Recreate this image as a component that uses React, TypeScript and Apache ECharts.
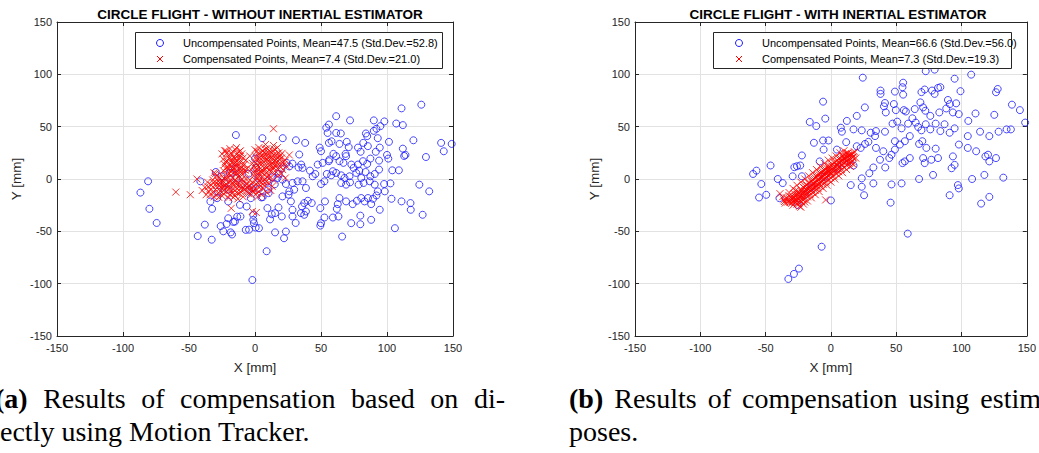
import React, { useEffect, useRef } from "react";
import * as echarts from "echarts";

const AXIS_MIN = -150;
const AXIS_MAX = 150;
const AXIS_STEP = 50;

const TITLE_A = "CIRCLE FLIGHT - WITHOUT INERTIAL ESTIMATOR";
const TITLE_B = "CIRCLE FLIGHT - WITH INERTIAL ESTIMATOR";
const LEGEND_A = [
  "Uncompensated Points, Mean=47.5 (Std.Dev.=52.8)",
  "Compensated Points, Mean=7.4 (Std.Dev.=21.0)",
];
const LEGEND_B = [
  "Uncompensated Points, Mean=66.6 (Std.Dev.=56.0)",
  "Compensated Points, Mean=7.3 (Std.Dev.=19.3)",
];
const X_NAME = "X [mm]";
const Y_NAME = "Y [mm]";

const CAPTION_A1 = ["(a)", "Results", "of", "compensation", "based", "on", "di-"];
const CAPTION_A2 = "ectly using Motion Tracker.";
const CAPTION_B1 = ["(b)", "Results", "of", "compensation", "using", "estim"];
const CAPTION_B2 = "poses.";

// Left panel: uncompensated points (blue circles)
const UNCOMP_A: number[][] = [
  [111, 67.5], [126, 71], [61.5, 60], [72, 56], [56, 52], [54, 49], [90, 56], [98, 55], [107, 53], [112, 51.5],
  [95, 50.5], [92, 48], [90, 46], [55, 44], [61.5, 44], [65, 43.5], [84, 43.5], [85, 41], [93, 39], [101.5, 35.5],
  [120, 37], [141, 34.5], [149, 33.5], [143, 26.5], [112, 29], [114, 23], [113, 22], [129.5, 21],
  [5.6, 39], [21, 39], [31, 37], [38, 34.5], [49, 30], [50, 26.5], [56, 34.5], [58, 36], [64, 33.5], [69.5, 35.5],
  [71, 30.5], [78, 30], [80, 26], [82, 34.5], [85.5, 31.4], [91.5, 26], [94.5, 30], [100, 23], [101, 19.5],
  [94, 17.6], [87.4, 19.5], [85, 14.4], [94, 9], [104, 8.3], [109, 8.3],
  [33.5, 23.4], [35, 13.8], [33, 11], [36, 10.6], [28.4, 14.7], [26, 12], [24, 15.4], [41.6, 8], [43.7, 2.6],
  [45.7, 4.8], [47.5, 13.8], [51.3, 15.4], [55.9, 17], [56.4, 18.6], [59.4, 24], [61.5, 21.8], [64, 17], [67, 15.4],
  [69, 21.8], [68.6, 24], [73, 13.8], [74.7, 10.6], [76.7, 5.8], [79, 8], [78, 13.8], [81.8, 17], [83.8, 6.7],
  [80.5, 1], [87.4, 2.6], [90.7, 4.8], [86.9, -2.2],
  [54.4, 4.8], [57.7, 3.5], [59, 7.4], [61.5, 5.8], [65.3, 3.5], [67.8, 1], [71.6, 2.6], [52.6, -2.2], [50, -4.8],
  [65.3, -3.8], [69, -5.4], [72, -3.2], [78.5, -5.4], [82.3, -3.8], [90.7, -5.4], [93, -11.8], [97.8, -4.8],
  [102.6, -4.2], [98.3, -11.8], [92, -15.7], [89.4, -18.9], [88, -24], [85.6, -18.2], [83, -21.4], [80.5, -18.2],
  [77.2, -20.8], [74, -24], [69, -21.4], [64, -18.2], [62.7, -24], [62, -28.5], [63.2, -35.8], [59, -36.8],
  [52.6, -36.8], [49.5, -27.8], [53, -21.4], [43, -23], [40, -20.8], [37.3, -23], [35.6, -26.2], [38.6, -31],
  [37.3, -34.2], [34.8, -32.6], [28.4, -35.8], [27.2, -21.4], [25.4, -15], [20.8, -16.6], [26, -11.8], [29.7, -10.2],
  [38.6, -8.6], [36, -2.2], [32.3, -2.2], [28.4, -3.8], [23.4, -4.8], [20.8, -0.6], [17, 1], [13.2, 1.6], [9.4, -2.2],
  [3, -9.3], [4.8, -17.6], [9.4, -27.8], [15.2, -32.6], [17.8, -27.2], [20.3, -35.8], [12.7, -33.6], [28.4, -29.4],
  [50, -42.2], [49.5, -44.5], [66, -55], [72.9, -42.2], [79.8, -43.2], [79.8, -35], [88, -39], [94.5, -29.4],
  [103.4, -18.9], [111, -21.4], [117.8, -23], [118, -29.4], [127, -34.2], [124.5, -5.4], [132, -11.8], [106, -47],
  [15.2, -51], [23.4, -50.2], [22, -56.6], [-7, -48.6], [0.5, -46.4], [3, -47], [-0.8, -42.2], [-11, -35.8],
  [-74.5, -42], [-21.5, -43], [-16.4, -41], [-24, -50], [-18.4, -51], [-4.5, -48.4], [8.8, -69], [-2, -96.5],
  [30.8, -42], [-38, -43.6], [-26, -45], [-43.4, -54.5], [-32.8, -58], [-17.4, -53],
  [-14.5, 42], [-81, -2.2], [-86.8, -13], [-80, -28.5], [-41.4, -2.2], [-29.7, 6.7], [-33.8, -21.5], [-32.5, -28.5],
  [-28.7, -18.3], [-20.3, -21.5], [-11.4, -24.7], [-6.3, -26.3], [-1.3, -34.3], [-20.3, -37.5], [-15.2, -40.7],
  [-13.5, -36], [-2.5, -8.7], [5.8, -17.3], [0, 19.5], [0.8, 10.6], [2.5, 1], [-19, 5.8], [-14, 1], [-22.8, -3.8],
  [-25.4, 2.6], [-1.3, -39], [-4.4, -10.3], [-3.2, -18.3], [10.3, -13.5], [11.4, -38.6],
  [-20, -10], [-10, -5], [-28, -12], [-5, 5], [10, -10], [15, -5], [18, 5], [20, 10], [-15, 10],
];

// Left panel: compensated points (red crosses)
const COMP_A: number[][] = [
  [-22, 27], [-18, 25], [-15, 28], [-12, 26], [-10, 24], [-20, 22], [-16, 21], [-13, 22], [-9, 20], [-7, 18],
  [-24, 19], [-21, 17], [-18, 18], [-14, 17], [-11, 16], [-8, 14], [-23, 14], [-19, 13], [-16, 14], [-13, 12],
  [-10, 11], [-6, 10], [-22, 10], [-17, 9], [-14, 8], [-11, 7], [-8, 6], [-20, 6], [-15, 5], [-12, 3],
  [-25, 24], [-19, 29], [-14, 30], [-17, 11], [-21, 12], [-12, 19], [-15, 16], [-9, 9], [-18, 7], [-24, 8],
  [-38, -8], [-35, -12], [-33, -6], [-30, -10], [-28, -14], [-26, -8], [-24, -4], [-22, -12], [-20, -7], [-18, -2],
  [-16, -10], [-14, -5], [-12, -14], [-10, -8], [-8, -3], [-6, -11], [-4, -6], [-36, -3], [-32, -1], [-29, -4],
  [-27, 1], [-25, -16], [-23, 0], [-21, 3], [-19, -15], [-17, 1], [-15, -1], [-13, 2], [-11, -2], [-9, -17],
  [-7, 0], [-5, -14], [-3, -9], [-34, -15], [-31, -17], [-28, -2], [-26, 4], [-22, -9], [-20, -3], [-18, -11],
  [-16, -6], [-14, -13], [-12, -7], [-10, 0], [-8, -10], [-40, -11], [-37, -15], [-24, -11], [-20, -18], [-15, -16],
  [-13, -19], [-30, 2], [-27, -6], [-11, -12], [-6, -5], [-4, -1], [-2, -12], [-25, -1], [-17, -4], [-23, -6],
  [0, 28], [3, 30], [6, 27], [9, 29], [12, 26], [15, 28], [18, 25], [2, 24], [5, 22], [8, 24],
  [11, 22], [14, 23], [17, 21], [20, 20], [1, 19], [4, 17], [7, 19], [10, 17], [13, 18], [16, 16],
  [19, 15], [22, 14], [-2, 15], [2, 13], [5, 14], [8, 12], [11, 13], [14, 11], [17, 10], [21, 9],
  [-3, 9], [0, 8], [3, 6], [6, 8], [9, 6], [12, 7], [15, 5], [18, 4], [-1, 3], [2, 1],
  [5, 2], [8, 0], [11, 1], [14, -1], [-2, -3], [1, -5], [4, -3], [7, -6], [10, -4], [13, -7],
  [0, -10], [3, -12], [6, -9], [9, -13], [-3, -15], [2, -17], [5, -15], [7, 25], [10, 20], [13, 15],
  [4, 10], [16, 19], [19, 22], [23, 18], [24, 12], [20, 5], [9, 2], [6, -2], [-1, -7], [12, -11],
  [1, 21], [11, 27], [14, 32], [8, 33], [17, 30], [-4, 22], [-1, 12], [3, -8], [15, 13],
  [-21.5, 24.5], [-17.5, 23.5], [-13.5, 24.5], [-19.5, 19.5], [-15.5, 19.5], [-11.5, 21.5], [-22.5, 16.5],
  [-17.5, 15.5], [-13.5, 14.5], [-9.5, 13.5], [-20.5, 9.5], [-15.5, 10.5], [-11.5, 9.5], [-7.5, 8.5], [-18.5, 3.5],
  [-13.5, 5.5], [-9.5, 4.5], [-33.5, -9.5], [-29.5, -6.5], [-26.5, -11.5], [-24.5, -7.5], [-21.5, -5.5],
  [-19.5, -9.5], [-17.5, -13.5], [-15.5, -3.5], [-13.5, -9.5], [-11.5, -4.5], [-9.5, -11.5], [-7.5, -6.5],
  [-5.5, -8.5], [-31.5, -13.5], [-27.5, -17.5], [-23.5, -14.5], [-16.5, -17.5], [-21.5, 0.5], [-26.5, -3.5],
  [-31.5, -3.5], [-35.5, -7.5],
  [1.5, 26.5], [4.5, 25.5], [7.5, 28.5], [10.5, 24.5], [13.5, 26.5], [16.5, 23.5], [3.5, 20.5], [6.5, 21.5],
  [9.5, 18.5], [12.5, 20.5], [15.5, 17.5], [18.5, 18.5], [0.5, 15.5], [3.5, 14.5], [6.5, 16.5], [9.5, 11.5],
  [12.5, 12.5], [16.5, 12.5], [19.5, 11.5], [1.5, 9.5], [4.5, 7.5], [7.5, 9.5], [10.5, 8.5], [13.5, 9.5],
  [-0.5, 5.5], [2.5, 3.5], [5.5, 5.5], [10.5, 3.5], [0.5, -1.5], [3.5, -1.5], [8.5, -2.5], [-1.5, -11.5],
  [4.5, -6.5], [1.5, -13.5], [21.5, 16.5], [20.5, 24.5],
  [-60, -12.5], [-49, -15], [-44, 0], [-30, 5], [14, 48], [-18, -28], [-2, -31], [1, -32], [-23, 27], [-11, 27],
  [26, 23], [23, 1], [-31, 6],
];

// Right panel: uncompensated points (blue circles)
const UNCOMP_B: number[][] = [
  [24.4, 96.8], [72.6, 103], [79.4, 104.5], [107.4, 99.7], [94.7, 95.8], [55.3, 92], [54.8, 87.7], [38, 84.5],
  [38, 81.3], [49, 83.5], [55.3, 80.6], [69.3, 83], [71.8, 85.5], [77.4, 84.5], [82, 87], [83.8, 87.7], [79.4, 81.3],
  [99.2, 83.9], [127.7, 86], [126.4, 82.9], [-6, 73.9], [26, 68.4], [41.4, 72.6], [48.2, 71.6], [40.6, 69.4],
  [42, 63.6], [49.7, 65.8], [55.8, 65.8], [57.4, 64.5], [68.5, 73.2], [70.6, 68.4], [64.2, 66.8], [72.3, 65.2],
  [76.1, 60.3], [83, 63.6], [89.6, 75.5], [91, 71.6], [95.9, 72.3], [88.3, 67.4], [93.4, 63.6], [97.9, 62],
  [110.7, 62.6], [125.1, 61.3], [138.6, 71], [144.7, 65.8], [148.7, 53.9], [-16.2, 54.5], [-11.2, 50.6],
  [-4.3, 57.7], [7.6, 49], [12.2, 55.5], [19.8, 60.3], [8.4, 45.2], [17.3, 47.4], [23.6, 46.5], [30.5, 44.2],
  [34.5, 45.8], [33.8, 41], [41.4, 45.2], [47.2, 52.9], [50.8, 54.8], [54.1, 48.4], [59.1, 52.9], [62.4, 58],
  [64.9, 53.9], [66.8, 49.7], [69.3, 46.5], [72.6, 52.3], [76.1, 47.4], [80.2, 52.9], [83.8, 45.8], [87, 52.3],
  [90.9, 44.2], [94.7, 48.4], [105.2, 55.5], [104.8, 41], [114.2, 45.2], [121.3, 41], [128.4, 45.2], [134.5, 47.4],
  [137.8, 47.4], [98, 32.9], [104.8, 29.7], [111.2, 26.5], [118.3, 21.6], [121.3, 16.8], [120.3, 23.2], [126.4, 20],
  [-6, 36.8], [-1.8, 36.8], [-5.6, 28.1], [4.6, 28.1], [11.7, 35.2], [19.8, 31.3], [22.8, 29.7], [26.1, 33.5],
  [28.7, 35.5], [34.5, 29.7], [40.1, 26.5], [44.7, 20], [46.4, 23.2], [49, 28.1], [49, 36.1], [52.8, 32.9],
  [56.6, 36.1], [60.4, 41], [67.5, 33.5], [70, 36.1], [73.1, 29.7], [80.2, 29], [82, 20], [70.6, 20], [71.8, 15.2],
  [76.9, 18.4], [78.2, 3.9], [56.6, 16.8], [60.4, 20], [54.8, 15.2], [37.6, 18.4], [41.6, 11], [32.5, 11],
  [29.4, 5.5], [32.5, -4.2], [23.6, 0.6], [23.6, -7.4], [25.4, -15.5], [15.2, -5.8], [17.3, 12.9], [93.4, 21.6],
  [92.4, 10.3], [94.7, 13.5], [97.2, -5.8], [97.9, -9], [90.9, -15.5], [108.1, 0], [117.5, 3.9], [121.3, -17.1],
  [115, -23.5], [132, 1.3], [67.5, 0], [54.1, -4.2], [46.4, -5.2], [45.7, -22.6],
  [-59.6, 4.8], [-57, 8], [-46.2, 12.9], [-53.3, -4.8], [-55, -17.7], [-49.5, -15.1], [-40.7, 0], [-36.9, -3.9],
  [-39.4, -18.3], [-29.3, 2.6], [-28, 11.3], [-26, 12.2], [-23.5, 12.9], [-22.2, 2.6], [-22.2, 22.5], [-25.5, -24.8],
  [-13, 34.6], [-8.6, 16.8], [0, -20.5], [-32.6, -95.5], [-28.3, -90.7], [-24.5, -85.6], [-7.1, -64.7], [58.8, -52.2],
  [-15, -8], [-5, 2], [5, 10], [10, 15], [-20, -15],
];

// Right panel: compensated points (red crosses)
const COMP_B: number[][] = [
  [-36, -20], [-34, -18], [-33, -22], [-32, -16], [-31, -20], [-30, -23], [-29, -17], [-28, -14], [-28, -21],
  [-27, -19], [-26, -24], [-26, -15], [-25, -12], [-25, -18], [-24, -21], [-23, -16], [-23, -10], [-22, -19],
  [-22, -13], [-21, -8], [-21, -16], [-20, -22], [-20, -11], [-19, -14], [-19, -6], [-18, -17], [-18, -9],
  [-17, -12], [-17, -4], [-16, -15], [-16, -7], [-15, -10], [-15, -2], [-14, -13], [-14, -5], [-13, -8], [-13, 0],
  [-12, -11], [-12, -3], [-11, -6], [-11, 2], [-10, -9], [-10, -1], [-9, -4], [-9, 4], [-8, -7], [-8, 1], [-7, -2],
  [-7, 6], [-6, -5], [-6, 3], [-5, 0], [-5, 8], [-4, -3], [-4, 5], [-3, 2], [-3, 10], [-2, -1], [-2, 7], [-1, 4],
  [-1, 12], [0, 1], [0, 9], [1, 6], [1, 14], [2, 3], [2, 11], [3, 8], [3, 16], [4, 5], [4, 13], [5, 10], [5, 18],
  [6, 7], [6, 15], [7, 12], [7, 20], [8, 9], [8, 17], [9, 14], [9, 22], [10, 11], [10, 19], [11, 16], [11, 24],
  [12, 13], [12, 21], [13, 18], [13, 25], [14, 15], [14, 22], [15, 19], [16, 24], [16, 17], [17, 21], [18, 26],
  [-29, -25], [-27, -11], [-24, -26], [-21, -24], [-18, -21], [-15, -18], [-12, -15], [-9, -12], [-6, -9],
  [-3, -6], [0, -3], [3, 0], [6, 3], [9, 6], [12, 9], [15, 12], [-32, -13], [-29, -9], [-26, -6], [-23, -3],
  [-20, 0], [-17, 3], [-14, 6], [-11, 9], [-8, 12], [-5, 15], [-2, 18], [1, 20], [4, 22], [7, 25], [10, 27],
  [-39, -14], [-4, -20], [-23, -27], [19, 20], [17, 14], [-35, -23], [-37, -17], [-30, -19], [-24, -14],
  [-19, -10], [-13, -5], [-7, 1], [-1, 7], [5, 13], [11, 19],
  [-35.5, -21.5], [-33.5, -19.5], [-31.5, -22.5], [-30.5, -17.5], [-29.5, -21.5], [-28.5, -18.5], [-27.5, -22.5],
  [-27.5, -16.5], [-26.5, -20.5], [-25.5, -14.5], [-24.5, -19.5], [-24.5, -23.5], [-23.5, -17.5], [-22.5, -21.5],
  [-22.5, -11.5], [-21.5, -14.5], [-20.5, -19.5], [-20.5, -8.5], [-19.5, -12.5], [-18.5, -15.5], [-18.5, -5.5],
  [-17.5, -9.5], [-16.5, -12.5], [-16.5, -3.5], [-15.5, -7.5], [-14.5, -10.5], [-14.5, -1.5], [-13.5, -4.5],
  [-12.5, -8.5], [-12.5, 1.5], [-11.5, -3.5], [-10.5, -6.5], [-10.5, 3.5], [-9.5, -0.5], [-8.5, -4.5], [-8.5, 5.5],
  [-7.5, 2.5], [-6.5, -2.5], [-6.5, 7.5], [-5.5, 4.5], [-4.5, 0.5], [-4.5, 9.5], [-3.5, 6.5], [-2.5, 3.5],
  [-2.5, 12.5], [-1.5, 9.5], [-0.5, 5.5], [0.5, 12.5], [1.5, 8.5], [2.5, 15.5], [3.5, 11.5], [4.5, 7.5],
  [5.5, 16.5], [6.5, 11.5], [7.5, 17.5], [8.5, 13.5], [9.5, 19.5], [10.5, 15.5], [11.5, 21.5], [12.5, 17.5],
  [13.5, 22.5], [14.5, 19.5], [15.5, 23.5], [16.5, 20.5], [17.5, 24.5], [12.5, 24.5], [8.5, 22.5], [15.5, 15.5],
];

const SANS = "'Liberation Sans', Arial, Helvetica, sans-serif";
const SERIF = "'Liberation Serif', 'Times New Roman', serif";
const AX = "#262626";
const GRID = "#e2e2e2";
const BLUE = "#1a1aff";
const RED = "#ff0000";
const CROSS = "path://M0,0L10,10M10,0L0,10";

function mainX(gridIndex: number) {
  return {
    type: "value", gridIndex, min: AXIS_MIN, max: AXIS_MAX, interval: AXIS_STEP, position: "bottom",
    name: X_NAME, nameLocation: "middle", nameGap: 24,
    nameTextStyle: { color: AX, fontSize: 13.5, fontFamily: SANS },
    axisLine: { show: true, onZero: false, lineStyle: { color: AX, width: 1 } },
    axisTick: { show: true, inside: true, length: 4, lineStyle: { color: AX } },
    axisLabel: { color: AX, fontSize: 11, fontFamily: SANS, margin: 6, showMinLabel: true, showMaxLabel: true },
    splitLine: { show: true, lineStyle: { color: GRID, width: 1 } },
  };
}
function sideX(gridIndex: number) {
  return {
    type: "value", gridIndex, min: AXIS_MIN, max: AXIS_MAX, interval: AXIS_STEP, position: "top",
    axisLine: { show: true, onZero: false, lineStyle: { color: AX, width: 1 } },
    axisTick: { show: true, inside: true, length: 4, lineStyle: { color: AX } },
    axisLabel: { show: false }, splitLine: { show: false },
  };
}
function mainY(gridIndex: number) {
  return {
    type: "value", gridIndex, min: AXIS_MIN, max: AXIS_MAX, interval: AXIS_STEP, position: "left",
    name: Y_NAME, nameLocation: "middle", nameGap: 34, nameRotate: 90,
    nameTextStyle: { color: AX, fontSize: 13.5, fontFamily: SANS },
    axisLine: { show: true, onZero: false, lineStyle: { color: AX, width: 1 } },
    axisTick: { show: true, inside: true, length: 4, lineStyle: { color: AX } },
    axisLabel: { color: AX, fontSize: 11, fontFamily: SANS, margin: 5, showMinLabel: true, showMaxLabel: true },
    splitLine: { show: true, lineStyle: { color: GRID, width: 1 } },
  };
}
function sideY(gridIndex: number) {
  return {
    type: "value", gridIndex, min: AXIS_MIN, max: AXIS_MAX, interval: AXIS_STEP, position: "right",
    axisLine: { show: true, onZero: false, lineStyle: { color: AX, width: 1 } },
    axisTick: { show: true, inside: true, length: 4, lineStyle: { color: AX } },
    axisLabel: { show: false }, splitLine: { show: false },
  };
}
function legendBox(names: string[], left: number, width: number, markX: number, textX: number) {
  const txt = (t: string, y: number) => ({
    type: "text", x: textX, y, z: 101,
    style: { text: t, fontSize: 11, fontFamily: SANS, fill: "#000", verticalAlign: "middle", align: "left" },
  });
  return [
    { type: "rect", z: 100, shape: { x: left + 0.5, y: 32.5, width, height: 36 }, style: { fill: "#fff", stroke: AX, lineWidth: 1 } },
    { type: "circle", z: 101, shape: { cx: markX, cy: 43, r: 3.5 }, style: { fill: "none", stroke: BLUE, lineWidth: 1 } },
    { type: "line", z: 101, shape: { x1: markX - 3, y1: 56, x2: markX + 3, y2: 62 }, style: { stroke: RED, lineWidth: 1 } },
    { type: "line", z: 101, shape: { x1: markX + 3, y1: 56, x2: markX - 3, y2: 62 }, style: { stroke: RED, lineWidth: 1 } },
    txt(names[0], 43),
    txt(names[1], 59),
  ];
}
function circles(name: string, data: number[][], idx: number) {
  return {
    type: "scatter", name, data, xAxisIndex: idx, yAxisIndex: idx, symbol: "circle", symbolSize: 7,
    itemStyle: { color: "rgba(0,0,0,0)", borderColor: BLUE, borderWidth: 1 }, silent: true, z: 2,
  };
}
function crosses(name: string, data: number[][], idx: number) {
  return {
    type: "scatter", name, data, xAxisIndex: idx, yAxisIndex: idx, symbol: CROSS, symbolSize: 7,
    itemStyle: { color: "rgba(0,0,0,0)", borderColor: RED, borderWidth: 1 }, silent: true, z: 3,
  };
}

function captionWords(words: string[], x0: number, x1: number, y: number) {
  const c = document.createElement("canvas").getContext("2d")!;
  const widths = words.map((w, i) => {
    c.font = `${i === 0 ? "bold " : ""}28px ${SERIF}`;
    return c.measureText(w).width;
  });
  const total = widths.reduce((a, b) => a + b, 0);
  const gap = (x1 - x0 - total) / (words.length - 1);
  let x = x0;
  return words.map((w, i) => {
    const el = {
      type: "text", x, y,
      style: { text: w, fontSize: 28, fontFamily: SERIF, fontWeight: i === 0 ? "bold" : "normal", fill: "#000", verticalAlign: "middle" },
    };
    x += widths[i] + gap;
    return el;
  });
}

export default function App() {
  const ref = useRef<HTMLDivElement>(null);
  useEffect(() => {
    document.body.style.margin = "0";
    const chart = echarts.init(ref.current!, null, { renderer: "svg" });
    chart.setOption({
      animation: false,
      backgroundColor: "#fff",
      title: [
        { text: TITLE_A, left: 255, top: 2, textAlign: "center", textStyle: { fontSize: 13.5, fontWeight: "bold", color: "#000", fontFamily: SANS } },
        { text: TITLE_B, left: 833, top: 2, textAlign: "center", textStyle: { fontSize: 13.5, fontWeight: "bold", color: "#000", fontFamily: SANS } },
      ],
      grid: [
        { left: 57, top: 22, width: 396, height: 314 },
        { left: 635, top: 22, width: 397, height: 314 },
      ],
      xAxis: [mainX(0), sideX(0), mainX(1), sideX(1)],
      yAxis: [mainY(0), sideY(0), mainY(1), sideY(1)],
      series: [
        circles(LEGEND_A[0], UNCOMP_A, 0),
        crosses(LEGEND_A[1], COMP_A, 0),
        circles(LEGEND_B[0], UNCOMP_B, 2),
        crosses(LEGEND_B[1], COMP_B, 2),
      ],
      graphic: [
        ...legendBox(LEGEND_A, 135, 307, 160, 183),
        ...legendBox(LEGEND_B, 713, 298, 739, 762),
        ...captionWords(CAPTION_A1, -5, 505, 398),
        { type: "text", x: 0, y: 431, style: { text: CAPTION_A2, fontSize: 28, fontFamily: SERIF, fill: "#000", verticalAlign: "middle" } },
        ...captionWords(CAPTION_B1, 569, 1041, 398),
        { type: "text", x: 569, y: 431, style: { text: CAPTION_B2, fontSize: 28, fontFamily: SERIF, fill: "#000", verticalAlign: "middle" } },
      ],
    });
    return () => chart.dispose();
  }, []);
  return <div ref={ref} style={{ position: "absolute", left: 0, top: 0, width: 1039, height: 453, background: "#fff" }} />;
}
